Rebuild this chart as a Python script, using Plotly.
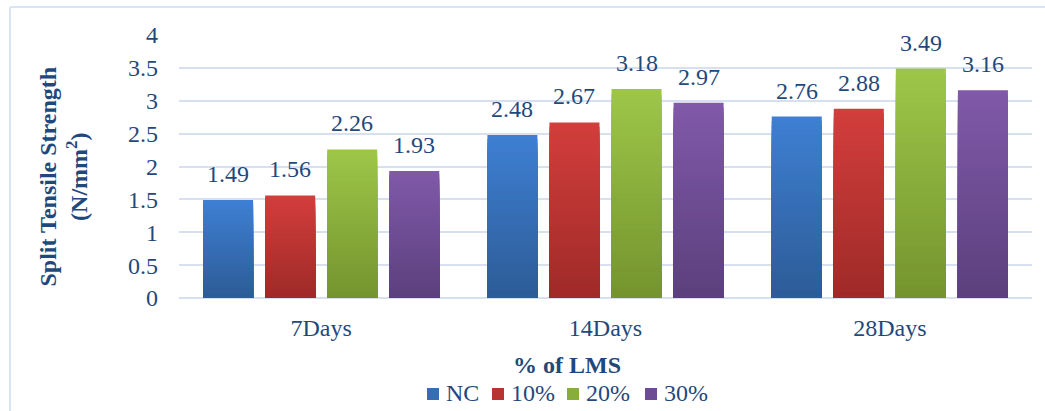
import plotly.graph_objects as go

# Split tensile strength by curing age and LMS replacement level
categories = ["7Days", "14Days", "28Days"]
series_names = ["NC", "10%", "20%", "30%"]
nc_values = [1.49, 2.48, 2.76]
lms10_values = [1.56, 2.67, 2.88]
lms20_values = [2.26, 3.18, 3.49]
lms30_values = [1.93, 2.97, 3.16]
y_ticks = [0, 0.5, 1, 1.5, 2, 2.5, 3, 3.5, 4]

series_values = [nc_values, lms10_values, lms20_values, lms30_values]

# (top colour, bottom colour) of each bar's vertical gradient
gradients = [
    ("#3e7fd2", "#2d5c98"),
    ("#d23e3c", "#9f2a28"),
    ("#9dc648", "#75942e"),
    ("#8059a9", "#5c407d"),
]

W, H = 1045, 411
M_L, M_R, M_T, M_B = 179, 13, 35, 113
PLOT_W = W - M_L - M_R
PLOT_H = H - M_T - M_B
BARGAP = 0.127
BARGROUPGAP = 0.194
TEXT_COLOR = "#1F497D"
FONT = "Times New Roman, Liberation Serif, Tinos, serif"
LAYERS = 40

# Legend layout (page pixels): left edge of each key swatch, row centre
LEGEND_SWATCH_X = [427, 492, 567, 645]
LEGEND_Y = 394
SWATCH = 12


def hex_to_rgb(h):
    h = h.lstrip("#")
    return tuple(int(h[i:i + 2], 16) for i in (0, 2, 4))


def mix(c1, c2, t):
    a, b = hex_to_rgb(c1), hex_to_rgb(c2)
    r = [round(a[i] + (b[i] - a[i]) * t) for i in range(3)]
    return f"rgb({r[0]},{r[1]},{r[2]})"


def px_x(px):
    return (px - M_L) / PLOT_W


def px_y(py):
    return (M_T + PLOT_H - py) / PLOT_H


fig = go.Figure()

# Each bar is a stack of overlapping, progressively shorter layers that
# darken towards the base, giving a top-to-bottom gradient.
for i, (name, vals) in enumerate(zip(series_names, series_values)):
    top, bottom = gradients[i]
    for k in range(LAYERS):
        frac = 1 - k / LAYERS
        fig.add_trace(go.Bar(
            x=categories,
            y=[v * frac for v in vals],
            name=name,
            offsetgroup=str(i),
            showlegend=False,
            marker=dict(color=mix(top, bottom, k / (LAYERS - 1)), line=dict(width=0)),
            hoverinfo="skip" if k else "x+y+name",
        ))

# Value labels above each bar
slot_px = PLOT_W / len(categories) * (1 - BARGAP) / len(series_names)
annotations = []
for i, vals in enumerate(series_values):
    for cat, v in zip(categories, vals):
        annotations.append(dict(
            x=cat, y=v, xref="x", yref="y",
            text=f"{v:.2f}", showarrow=False,
            xshift=(i - (len(series_names) - 1) / 2) * slot_px,
            yanchor="bottom", yshift=11,
            font=dict(family=FONT, size=24, color=TEXT_COLOR),
        ))

# Axis titles
annotations.append(dict(
    x=px_x(63), y=px_y(176.5), xref="paper", yref="paper",
    text="Split Tensile Strength<br>(N/mm<sup>2</sup>)",
    textangle=-90, showarrow=False, xanchor="center", yanchor="middle",
    font=dict(family=FONT, size=24, color=TEXT_COLOR, weight="bold"),
))
annotations.append(dict(
    x=px_x(567), y=px_y(365), xref="paper", yref="paper",
    text="% of LMS", showarrow=False, xanchor="center", yanchor="middle",
    font=dict(family=FONT, size=24, color=TEXT_COLOR, weight="bold"),
))

frame_color = "#d8e3f4"
shapes = [
    dict(type="line", xref="paper", yref="paper",
         x0=px_x(10), x1=px_x(10), y0=px_y(7), y1=px_y(H + 20),
         line=dict(color=frame_color, width=2)),
    dict(type="line", xref="paper", yref="paper",
         x0=px_x(10), x1=px_x(W + 20), y0=px_y(7), y1=px_y(7),
         line=dict(color=frame_color, width=2)),
]

# Legend: a colour key swatch followed by the series name
for i, name in enumerate(series_names):
    x0 = LEGEND_SWATCH_X[i]
    top, bottom = gradients[i]
    shapes.append(dict(
        type="rect", xref="paper", yref="paper",
        x0=px_x(x0), x1=px_x(x0 + SWATCH),
        y0=px_y(LEGEND_Y + SWATCH / 2), y1=px_y(LEGEND_Y - SWATCH / 2),
        fillcolor=mix(top, bottom, 0.5), line=dict(width=0),
    ))
    annotations.append(dict(
        x=px_x(x0 + SWATCH + 5), y=px_y(LEGEND_Y - 1), xref="paper", yref="paper",
        text=name, showarrow=False, xanchor="left", yanchor="middle",
        font=dict(family=FONT, size=24, color=TEXT_COLOR),
    ))

grid_color = "#d6e0f0"
fig.update_layout(
    width=W, height=H,
    margin=dict(l=M_L, r=M_R, t=M_T, b=M_B, autoexpand=False),
    paper_bgcolor="white", plot_bgcolor="white",
    barmode="group", bargap=BARGAP, bargroupgap=BARGROUPGAP,
    font=dict(family=FONT, size=24, color=TEXT_COLOR),
    annotations=annotations,
    shapes=shapes,
    showlegend=False,
    xaxis=dict(
        type="category", showgrid=False, showline=False,
        tickfont=dict(family=FONT, size=24, color=TEXT_COLOR),
        ticks="", ticklabelstandoff=13, automargin=False,
    ),
    yaxis=dict(
        range=[0, 4], tickvals=y_ticks, ticktext=[f"{t:g}" for t in y_ticks],
        showgrid=True, gridcolor=grid_color, gridwidth=2,
        zeroline=True, zerolinecolor=grid_color, zerolinewidth=2,
        showline=False, ticks="", ticklabelstandoff=20,
        tickfont=dict(family=FONT, size=24, color=TEXT_COLOR),
        automargin=False,
    ),
)

fig.write_html("out.html")
